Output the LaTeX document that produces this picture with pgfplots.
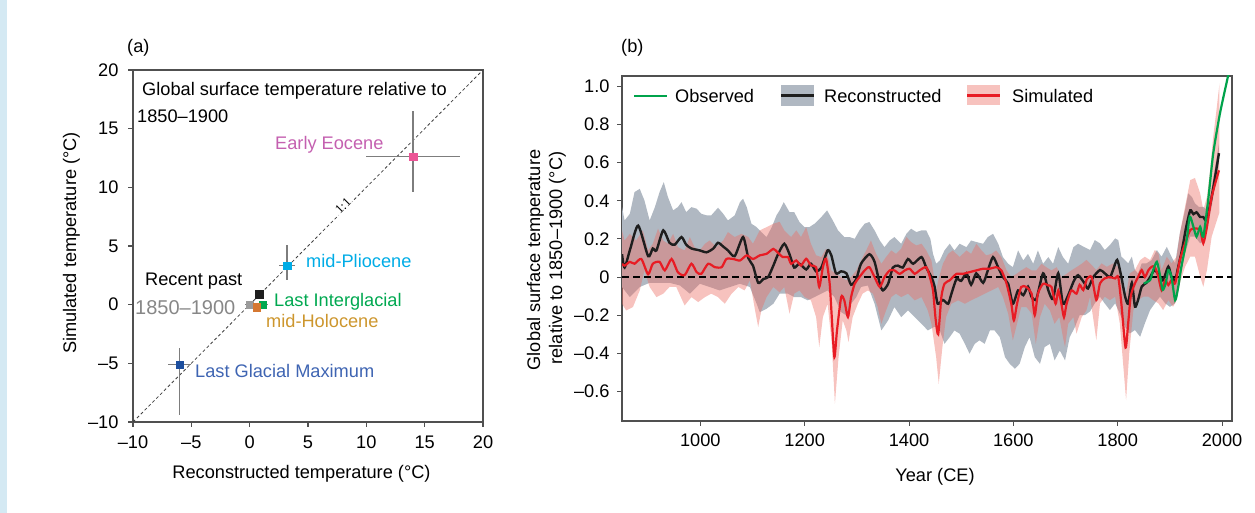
\documentclass[border=0pt]{standalone}
\usepackage{fontspec}
\setmainfont{Liberation Sans}
\newfontfamily\seriffont{Liberation Serif}
\usepackage{pgfplots}
\usepackage{pgfplotstable}
\pgfplotsset{compat=1.18}
\usepgfplotslibrary{fillbetween}

\definecolor{axisgray}{RGB}{80,80,80}
\definecolor{bandgray}{RGB}{176,184,194}
\definecolor{bandred}{RGB}{236,110,100}
\definecolor{simred}{RGB}{232,28,36}
\definecolor{obsgreen}{RGB}{0,163,75}
\definecolor{recblack}{RGB}{30,30,30}
\definecolor{stripblue}{RGB}{212,233,243}
\definecolor{eocm}{RGB}{236,85,150}
\definecolor{eoct}{RGB}{196,96,176}
\definecolor{plio}{RGB}{0,172,230}
\definecolor{lig}{RGB}{0,168,80}
\definecolor{holom}{RGB}{213,120,50}
\definecolor{holot}{RGB}{205,150,45}
\definecolor{lgmm}{RGB}{28,78,158}
\definecolor{lgmt}{RGB}{62,100,178}
\definecolor{pim}{RGB}{155,155,155}
\definecolor{pit}{RGB}{135,135,135}
\definecolor{errgray}{RGB}{125,125,125}

\newcommand\fs{\fontsize{18.2}{22}\selectfont}

% Reconstructed mean
\pgfplotstableread{
x y
850 0.12
855 0.05
866 0.15
881 0.27
900 0.11
909 0.15
916 0.14
929 0.245
941 0.18
951 0.17
964 0.21
973 0.17
983 0.15
999 0.14
1012 0.13
1025 0.15
1034 0.18
1044 0.16
1053 0.14
1066 0.11
1082 0.21
1092 0.10
1101 0.06
1111 -0.03
1121 -0.01
1130 0.0
1140 0.06
1149 0.12
1161 0.175
1171 0.12
1180 0.05
1190 0.07
1203 0.04
1212 0.07
1222 0.03
1232 0.05
1244 0.14
1251 0.115
1260 0.02
1270 0.03
1280 0.02
1289 -0.04
1299 -0.01
1308 0.07
1324 0.12
1334 0.08
1344 -0.035
1350 -0.07
1360 -0.035
1369 0.05
1379 0.06
1388 0.05
1398 0.095
1408 0.07
1424 0.105
1433 0.05
1443 0.0
1449 -0.05
1455 -0.14
1465 -0.12
1475 -0.14
1481 -0.09
1491 -0.01
1500 -0.02
1510 0.02
1519 -0.04
1529 0.02
1542 -0.03
1551 0.035
1561 0.105
1571 0.05
1580 0.0
1590 -0.035
1599 -0.14
1609 -0.07
1619 -0.095
1628 -0.05
1635 -0.105
1644 -0.115
1657 0.02
1667 -0.07
1676 -0.115
1686 0.02
1695 -0.14
1705 -0.095
1715 -0.026
1724 0.01
1737 -0.035
1743 -0.06
1753 0
1766 0.037
1775 0.02
1785 0
1791 0.037
1799 0.09
1807 0
1814 -0.10
1820 -0.14
1827 -0.03
1833 -0.155
1839 -0.12
1846 -0.05
1855 -0.03
1862 0
1871 0.037
1881 0
1887 -0.017
1897 0.055
1903 0
1910 -0.017
1916 0.055
1923 0.14
1931 0.26
1939 0.35
1945 0.33
1951 0.34
1958 0.315
1964 0.315
1970 0.30
1980 0.42
1994 0.65
}\recmean

% Simulated mean
\pgfplotstableread{
x y
850 0.07
855 0.06
865 0.08
874 0.07
887 0.095
900 0.015
909 0.07
922 0.08
932 0.035
945 0.095
957 0.026
970 0.01
983 0.07
993 0.026
1002 0.017
1015 0.07
1028 0.052
1041 0.052
1050 0.095
1063 0.095
1076 0.087
1089 0.114
1101 0.095
1114 0.114
1127 0.122
1140 0.148
1148 0.13
1158 0.105
1168 0.105
1174 0.07
1184 0.087
1193 0.061
1203 0.096
1212 0.061
1222 0.052
1228 -0.052
1235 0.052
1241 0.096
1248 -0.035
1252 -0.21
1257 -0.42
1262 -0.28
1270 -0.105
1276 -0.122
1283 -0.21
1289 -0.105
1296 -0.035
1305 0
1315 0.035
1324 0.052
1334 0
1344 -0.052
1353 0
1363 0.035
1372 0.035
1382 0.017
1392 0.035
1401 0.044
1411 0.017
1420 0.035
1433 0.052
1440 0
1446 -0.07
1451 -0.22
1456 -0.30
1462 -0.105
1468 -0.035
1478 -0.017
1491 0.017
1503 0.017
1516 0.026
1529 0.035
1542 0.044
1555 0.044
1567 0.052
1577 0.035
1587 -0.035
1596 -0.14
1601 -0.227
1607 -0.14
1615 -0.052
1625 -0.052
1635 -0.087
1641 -0.2
1647 -0.087
1657 -0.035
1667 -0.044
1673 -0.052
1681 -0.14
1686 -0.07
1692 -0.14
1697 -0.21
1702 -0.14
1711 -0.07
1721 -0.087
1727 -0.04
1734 -0.068
1741 -0.01
1750 0
1759 -0.12
1766 -0.033
1775 -0.007
1785 0
1795 -0.007
1801 0
1807 -0.14
1815 -0.37
1820 -0.243
1825 -0.10
1833 -0.033
1839 0
1846 0.037
1852 0
1859 0.037
1865 0.054
1871 0.054
1878 0
1884 -0.068
1891 -0.016
1897 -0.042
1903 -0.016
1910 -0.033
1919 0.089
1929 0.177
1939 0.247
1948 0.255
1958 0.247
1964 0.177
1971 0.264
1980 0.42
1994 0.56
}\simmean

% Observed
\pgfplotstableread{
x y
1850 -0.033
1862 -0.016
1868 0.037
1875 0.08
1881 0.01
1886 -0.068
1892 -0.033
1897 0.037
1903 0.002
1910 -0.121
1916 -0.051
1922 0.054
1932 0.194
1938 0.317
1945 0.264
1951 0.212
1958 0.264
1964 0.212
1974 0.421
1983 0.649
1996 0.86
2011 1.05
2016 1.12
}\observed

% Reconstructed band upper
\pgfplotstableread{
x y
850 0.367
855 0.297
865 0.332
874 0.446
884 0.463
893 0.402
903 0.297
913 0.367
922 0.446
930 0.498
938 0.42
948 0.35
957 0.367
964 0.393
973 0.341
983 0.367
993 0.359
1002 0.332
1012 0.324
1021 0.324
1034 0.364
1044 0.332
1053 0.297
1066 0.324
1076 0.393
1082 0.411
1089 0.367
1098 0.28
1108 0.262
1117 0.236
1127 0.21
1137 0.262
1146 0.324
1152 0.35
1160 0.393
1171 0.341
1180 0.341
1190 0.289
1200 0.262
1209 0.262
1219 0.28
1232 0.315
1243 0.35
1254 0.297
1264 0.245
1276 0.21
1286 0.21
1296 0.201
1305 0.245
1315 0.28
1324 0.289
1334 0.245
1344 0.192
1353 0.157
1363 0.192
1372 0.21
1385 0.175
1395 0.227
1404 0.254
1414 0.236
1424 0.245
1433 0.245
1441 0.2
1446 0.122
1452 0.07
1459 0.087
1468 0.14
1478 0.175
1487 0.14
1497 0.175
1510 0.157
1519 0.192
1529 0.184
1542 0.175
1551 0.21
1561 0.227
1571 0.175
1580 0.105
1590 0.07
1599 0.052
1609 0.14
1619 0.087
1628 0.122
1638 0.07
1647 0.14
1657 0.07
1667 0.105
1676 0.07
1686 0.157
1695 0.105
1705 0.07
1715 0.157
1724 0.175
1734 0.16
1747 0.142
1756 0.194
1766 0.177
1775 0.142
1785 0.168
1795 0.203
1801 0.194
1807 0.107
1814 0.089
1820 0.072
1827 0.107
1833 0.037
1839 0.019
1846 0.072
1855 0.072
1865 0.089
1875 0.142
1884 0.107
1894 0.159
1903 0.107
1910 0.072
1919 0.229
1929 0.352
1935 0.439
1942 0.421
1948 0.387
1955 0.369
1964 0.369
1971 0.352
1980 0.47
1994 0.70
}\recup

% Reconstructed band lower
\pgfplotstableread{
x y
850 -0.052
865 -0.105
884 -0.052
903 -0.03
922 -0.03
941 -0.03
961 -0.044
980 -0.087
999 -0.035
1018 -0.052
1037 -0.07
1057 -0.052
1076 -0.035
1095 -0.052
1108 -0.14
1114 -0.184
1127 -0.166
1140 -0.14
1152 -0.087
1168 -0.087
1180 -0.105
1193 -0.105
1206 -0.122
1219 -0.105
1232 -0.087
1244 -0.07
1257 -0.105
1270 -0.184
1280 -0.201
1289 -0.14
1299 -0.105
1308 -0.052
1321 -0.044
1334 -0.14
1347 -0.28
1360 -0.227
1372 -0.157
1385 -0.21
1398 -0.175
1411 -0.21
1424 -0.245
1436 -0.28
1449 -0.26
1459 -0.28
1468 -0.35
1478 -0.315
1487 -0.28
1497 -0.297
1507 -0.35
1516 -0.402
1526 -0.35
1535 -0.332
1545 -0.35
1555 -0.28
1564 -0.28
1574 -0.315
1584 -0.42
1593 -0.455
1603 -0.481
1612 -0.455
1622 -0.367
1631 -0.315
1641 -0.42
1651 -0.455
1660 -0.367
1670 -0.35
1679 -0.437
1689 -0.385
1699 -0.437
1708 -0.315
1718 -0.262
1727 -0.2
1737 -0.2
1747 -0.18
1756 -0.138
1766 -0.103
1775 -0.138
1785 -0.173
1795 -0.138
1804 -0.191
1814 -0.261
1823 -0.296
1833 -0.278
1843 -0.313
1852 -0.243
1862 -0.173
1871 -0.138
1881 -0.103
1891 -0.138
1900 -0.156
1910 -0.138
1919 -0.016
1929 0.124
1939 0.212
1948 0.212
1958 0.177
1967 0.194
1980 0.37
1994 0.60
}\reclow

% Simulated band upper
\pgfplotstableread{
x y
850 0.245
855 0.192
865 0.227
877 0.192
890 0.245
900 0.14
909 0.175
919 0.254
929 0.192
938 0.175
948 0.227
957 0.157
970 0.14
980 0.21
989 0.157
999 0.14
1009 0.175
1018 0.192
1031 0.157
1044 0.192
1053 0.236
1066 0.21
1079 0.227
1092 0.21
1101 0.175
1114 0.245
1127 0.262
1140 0.28
1152 0.29
1161 0.245
1174 0.21
1184 0.245
1193 0.21
1203 0.262
1212 0.175
1222 0.114
1232 0.105
1241 0.149
1251 0.035
1260 0.017
1270 0
1280 -0.017
1289 0
1299 0.035
1308 0.087
1318 0.14
1327 0.192
1337 0.122
1347 0.07
1356 0.105
1366 0.14
1375 0.122
1385 0.149
1395 0.21
1404 0.184
1414 0.166
1424 0.175
1433 0.14
1443 0.087
1446 0.035
1452 -0.07
1456 -0.017
1465 0.07
1475 0.122
1484 0.14
1497 0.105
1510 0.14
1519 0.122
1529 0.175
1539 0.14
1548 0.114
1558 0.122
1567 0.14
1577 0.105
1587 0.035
1596 0
1606 0.017
1615 0.035
1625 0.052
1635 0.035
1644 0.035
1654 0.07
1663 0.052
1673 0.035
1683 0.052
1692 0
1702 0.017
1711 0.035
1721 0.052
1731 0.07
1740 0.09
1747 0.072
1759 0.037
1769 0.072
1779 0.054
1791 0.072
1801 0.054
1807 0.002
1815 -0.103
1823 0.019
1833 0.037
1843 0.089
1852 0.107
1862 0.089
1871 0.142
1878 0.124
1884 0.037
1894 0.107
1903 0.072
1913 0.107
1919 0.229
1929 0.369
1939 0.509
1948 0.52
1958 0.439
1964 0.352
1971 0.421
1977 0.561
1983 0.736
1990 0.894
1995 1.016
}\simup

% Simulated band lower
\pgfplotstableread{
x y
850 -0.14
858 -0.175
871 -0.157
884 -0.07
893 0.035
903 -0.052
916 -0.105
929 -0.087
941 -0.052
954 -0.052
970 -0.149
983 -0.105
996 -0.131
1009 -0.105
1021 -0.087
1034 -0.105
1047 -0.14
1060 -0.087
1073 -0.052
1085 -0.07
1095 -0.017
1105 -0.175
1111 -0.262
1117 -0.175
1127 -0.105
1140 -0.052
1152 -0.08
1161 -0.052
1171 -0.192
1180 -0.087
1190 -0.07
1200 -0.105
1212 -0.122
1222 -0.21
1228 -0.367
1235 -0.21
1244 -0.14
1252 -0.35
1258 -0.665
1265 -0.42
1273 -0.227
1280 -0.28
1284 -0.341
1292 -0.21
1302 -0.14
1311 -0.087
1321 -0.07
1331 -0.087
1340 -0.157
1347 -0.245
1356 -0.175
1366 -0.105
1375 -0.087
1385 -0.105
1398 -0.087
1411 -0.122
1424 -0.105
1436 -0.175
1443 -0.245
1452 -0.42
1457 -0.56
1464 -0.367
1471 -0.21
1481 -0.14
1494 -0.122
1507 -0.14
1519 -0.122
1532 -0.105
1545 -0.087
1558 -0.07
1571 -0.052
1580 -0.105
1590 -0.192
1599 -0.332
1607 -0.245
1615 -0.157
1625 -0.157
1635 -0.192
1643 -0.35
1651 -0.21
1660 -0.14
1670 -0.175
1679 -0.245
1688 -0.21
1695 -0.315
1699 -0.367
1705 -0.245
1715 -0.21
1721 -0.297
1731 -0.21
1740 -0.175
1747 -0.103
1759 -0.331
1766 -0.138
1775 -0.103
1785 -0.121
1795 -0.103
1804 -0.243
1816 -0.645
1822 -0.40
1830 -0.173
1839 -0.121
1849 -0.103
1859 -0.103
1868 -0.121
1878 -0.138
1887 -0.173
1897 -0.121
1906 -0.156
1913 -0.121
1919 -0.033
1929 0.054
1939 0.107
1948 0.107
1958 0.002
1964 -0.051
1971 0.037
1980 0.212
1995 0.34
}\simlow

\begin{document}
\begin{tikzpicture}
\path (0pt,0pt) rectangle (1255pt,513pt);
\fill[stripblue] (0pt,0pt) rectangle (7pt,513pt);

% ---------------- Panel (a) ----------------
\begin{axis}[
  at={(133pt,91pt)}, anchor=south west, scale only axis,
  width=350pt, height=352pt,
  xmin=-10, xmax=20, ymin=-10, ymax=20,
  xtick={-10,-5,0,5,10,15,20}, xticklabels={–10,–5,0,5,10,15,20},
  ytick={-10,-5,0,5,10,15,20}, yticklabels={–10,–5,0,5,10,15,20},
  tick align=outside, xtick pos=bottom, ytick pos=left,
  major tick length=5pt,
  every tick/.style={axisgray, line width=1.1pt},
  axis line style={axisgray, line width=1.4pt},
  tick label style={font=\fs, text=black},
  xticklabel style={yshift=-5pt},
  yticklabel style={xshift=-6pt},
  /pgf/number format/assume math mode=true,
]
\addplot[black!75, line width=0.8pt, dash pattern=on 3pt off 2.5pt] coordinates {(-10,-10) (20,20)};
\addplot[only marks, mark=square*, mark size=3.7pt, color=eocm,
  error bars/.cd, x dir=both, x explicit, y dir=both, y explicit, error mark=none,
  error bar style={draw=errgray, line width=1.1pt}]
  coordinates {(14,12.6) += (4,3.9) -= (4,3.0)};
\addplot[only marks, mark=square*, mark size=3.7pt, color=lgmm,
  error bars/.cd, x dir=both, x explicit, y dir=both, y explicit, error mark=none,
  error bar style={draw=errgray, line width=1.1pt}]
  coordinates {(-6,-5.1) += (1,1.4) -= (1,4.3)};
\addplot[only marks, mark=square*, mark size=3.7pt, color=plio,
  error bars/.cd, x dir=both, x explicit, y dir=both, y explicit, error mark=none,
  error bar style={draw=errgray, line width=1.1pt}]
  coordinates {(3.2,3.3) += (0.7,1.8) -= (0.7,1.2)};
\addplot[only marks, mark=square*, mark size=3.7pt, color=pim,
  error bars/.cd, x dir=both, x explicit, error mark=none,
  error bar style={draw=errgray, line width=1.1pt}]
  coordinates {(0,0) +- (0.4,0)};
\addplot[only marks, mark=square*, mark size=3.7pt, color=lig,
  error bars/.cd, x dir=both, x explicit, error mark=none,
  error bar style={draw=errgray, line width=1.1pt}]
  coordinates {(1.1,0.0) +- (0.5,0)};
\addplot[only marks, mark=square*, mark size=3.7pt, color=holom] coordinates {(0.6,-0.2)};
\addplot[only marks, mark=square*, mark size=3.7pt, color=recblack] coordinates {(0.8,0.9)};
\end{axis}

% texts of panel (a)
\node[anchor=base west, inner sep=0pt, font=\fs] at (127pt,460pt) {(a)};
\node[anchor=base west, inner sep=0pt, font=\fs] at (142pt,417pt) {Global surface temperature relative to};
\node[anchor=base west, inner sep=0pt, font=\fs] at (137pt,390pt) {1850–1900};
\node[anchor=base west, inner sep=0pt, font=\fs, text=eoct] at (275pt,363pt) {Early Eocene};
\node[rotate=45, inner sep=1.2pt, fill=white, font=\seriffont\fontsize{13}{15}\selectfont] at (343pt,307pt) {1:1};
\node[anchor=base west, inner sep=0pt, font=\fs, text=plio] at (306pt,245pt) {mid-Pliocene};
\node[anchor=base west, inner sep=0pt, font=\fs] at (145pt,227pt) {Recent past};
\node[anchor=base west, inner sep=0pt, font=\fontsize{20}{24}\selectfont, text=pit] at (135pt,198pt) {1850–1900};
\node[anchor=base west, inner sep=0pt, font=\fs, text=lig] at (274pt,206pt) {Last Interglacial};
\node[anchor=base west, inner sep=0pt, font=\fs, text=holot] at (266pt,185pt) {mid-Holocene};
\node[anchor=base west, inner sep=0pt, font=\fs, text=lgmt] at (195pt,135pt) {Last Glacial Maximum};
\node[anchor=base, inner sep=0pt, font=\fs] at (301.5pt,34pt) {Reconstructed temperature (°C)};
\node[anchor=base, rotate=90, inner sep=0pt, font=\fs] at (76pt,270pt) {Simulated temperature (°C)};

% ---------------- Panel (b) ----------------
\begin{axis}[
  at={(622pt,92pt)}, anchor=south west, scale only axis,
  width=610pt, height=345pt,
  xmin=850, xmax=2019, ymin=-0.755, ymax=1.055,
  xtick={1000,1200,1400,1600,1800,2000}, xticklabels={1000,1200,1400,1600,1800,2000},
  ytick={-0.6,-0.4,-0.2,0,0.2,0.4,0.6,0.8,1.0},
  yticklabels={–0.6,–0.4,–0.2,0,0.2,0.4,0.6,0.8,1.0},
  tick align=outside, xtick pos=bottom, ytick pos=left,
  major tick length=5pt,
  every tick/.style={axisgray, line width=1.0pt},
  axis line style={axisgray, line width=1.3pt},
  tick label style={font=\fs, text=black},
  xticklabel style={yshift=-4pt},
  yticklabel style={xshift=-4pt},
  /pgf/number format/assume math mode=true,
]
\addplot[draw=none, name path=gu, forget plot] table {\recup};
\addplot[draw=none, name path=gl, forget plot] table {\reclow};
\addplot[fill=bandgray, draw=none, forget plot] fill between[of=gu and gl];
\addplot[draw=none, name path=ru, forget plot] table {\simup};
\addplot[draw=none, name path=rl, forget plot] table {\simlow};
\addplot[fill=bandred, fill opacity=0.42, draw=none, forget plot] fill between[of=ru and rl];
\addplot[black, line width=1.8pt, dash pattern=on 7pt off 4pt, forget plot] coordinates {(850,0) (2019,0)};
\addplot[recblack, line width=2.4pt, smooth, tension=0.4] table {\recmean};
\addplot[simred, line width=2.2pt, smooth, tension=0.4] table {\simmean};
\addplot[obsgreen, line width=2.2pt, smooth, tension=0.4] table {\observed};
\end{axis}

% legend of panel (b)
\draw[obsgreen, line width=2.2pt] (634pt,417pt) -- (667pt,417pt);
\node[anchor=base west, inner sep=0pt, font=\fs] at (675pt,410pt) {Observed};
\fill[bandgray] (781pt,407pt) rectangle (814pt,428pt);
\draw[recblack, line width=2.4pt] (781pt,417.5pt) -- (814pt,417.5pt);
\node[anchor=base west, inner sep=0pt, font=\fs] at (824pt,410pt) {Reconstructed};
\fill[bandred, fill opacity=0.42] (967pt,408pt) rectangle (1000pt,428pt);
\draw[simred, line width=2.2pt] (967pt,417.5pt) -- (1000pt,417.5pt);
\node[anchor=base west, inner sep=0pt, font=\fs] at (1012pt,410pt) {Simulated};

% texts of panel (b)
\node[anchor=base west, inner sep=0pt, font=\fs] at (621pt,460pt) {(b)};
\node[anchor=base, inner sep=0pt, font=\fs] at (935pt,31.5pt) {Year (CE)};
\node[anchor=base, rotate=90, inner sep=0pt, font=\fs] at (540pt,253pt) {Global surface temperature};
\node[anchor=base, rotate=90, inner sep=0pt, font=\fs] at (562pt,255pt) {relative to 1850–1900 (°C)};
\end{tikzpicture}
\end{document}
